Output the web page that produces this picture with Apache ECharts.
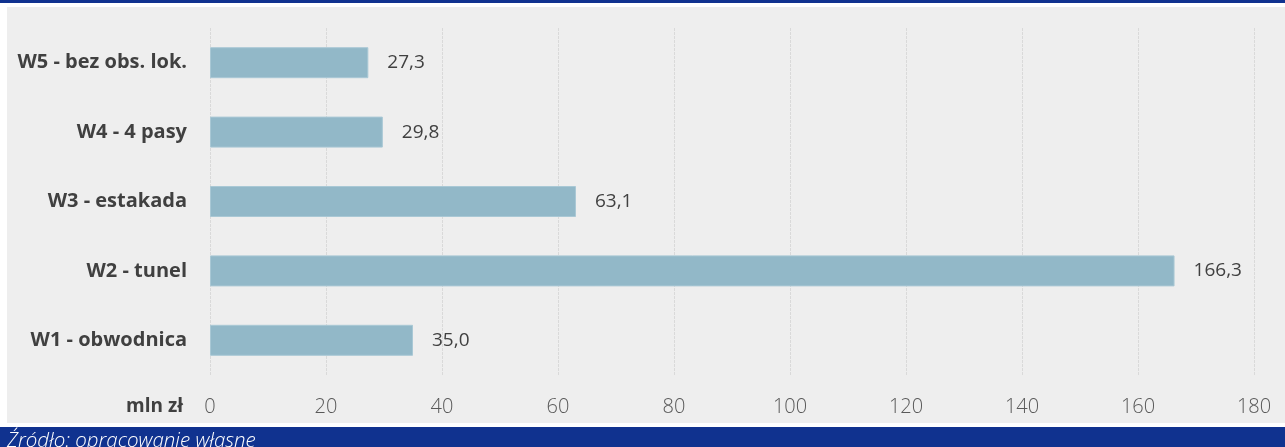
<!DOCTYPE html>
<html><head><meta charset="utf-8">
<script src="https://cdn.jsdelivr.net/npm/echarts@6/dist/echarts.min.js"></script>
<style>html,body{margin:0;padding:0;background:#fff}#c{width:1285px;height:447px}</style>
</head><body><div id="c"></div>
<script>
const categories = ['W1 - obwodnica', 'W2 - tunel', 'W3 - estakada', 'W4 - 4 pasy', 'W5 - bez obs. lok.'];
const values = [35.0, 166.3, 63.1, 29.8, 27.3];
const axisName = 'mln zł';
const sourceText = 'Źródło: opracowanie własne';

const chart = echarts.init(document.getElementById('c'), null, {renderer: 'canvas'});
chart.setOption({
  backgroundColor: '#ffffff',
  animation: false,
  graphic: [
    {type: 'rect', z: -10, shape: {x: 0, y: 0, width: 1285, height: 3}, style: {fill: '#10328f'}},
    {type: 'rect', z: -10, shape: {x: 7, y: 7, width: 1278, height: 416}, style: {fill: '#eeeeee'}},
    {type: 'rect', z: -10, shape: {x: 0, y: 427, width: 1285, height: 20}, style: {fill: '#10328f'}},
    {type: 'text', z: 10, style: {x: 7, y: 451, text: sourceText, fill: '#ffffff', verticalAlign: 'bottom', font: 'italic 300 20.5px "Open Sans"'}}
  ],
  grid: {left: 210, right: 31, top: 28, bottom: 72, containLabel: false},
  xAxis: {
    type: 'value', min: 0, max: 180, interval: 20,
    axisLine: {show: false}, axisTick: {show: false},
    axisLabel: {color: '#595959', fontSize: 20, fontWeight: 300, fontFamily: 'Open Sans', margin: 22},
    splitLine: {show: true, lineStyle: {color: '#d9d9d9', type: [3, 1], width: 1}}
  },
  yAxis: {
    type: 'category', data: categories,
    name: axisName, nameLocation: 'start', nameGap: 32,
    nameTextStyle: {color: '#404040', fontSize: 19, fontWeight: 'bold', fontFamily: 'Open Sans', align: 'right', verticalAlign: 'middle', padding: [0, 27, 0, 0]},
    axisLine: {show: false}, axisTick: {show: false},
    axisLabel: {color: '#404040', fontSize: 20, fontWeight: 'bold', fontFamily: 'Open Sans', margin: 23}
  },
  series: [{
    type: 'bar', data: values, barWidth: 31,
    itemStyle: {color: '#92b8c8', borderColor: '#a9c8d5', borderWidth: 1},
    label: {show: true, position: 'right', distance: 19, color: '#404040', fontSize: 19, fontFamily: 'Open Sans',
      formatter: p => p.value.toFixed(1).replace('.', ',')}
  }]
});
</script></body></html>
